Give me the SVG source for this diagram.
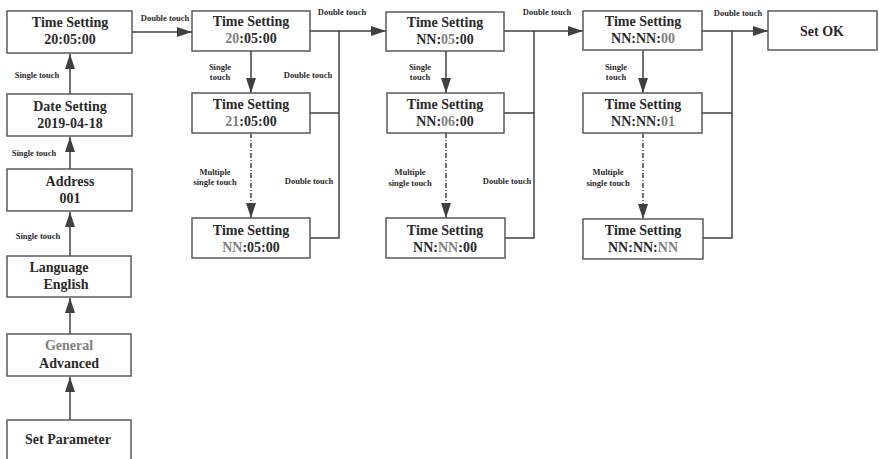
<svg xmlns="http://www.w3.org/2000/svg" width="879" height="459" viewBox="0 0 879 459">
<style>
.box{fill:#fff;stroke:#5a5a5a;stroke-width:1.5}
text{font-family:'Liberation Serif','Times New Roman','DejaVu Serif',serif;font-weight:bold;fill:#2a2a2a;text-anchor:middle}
.t{font-size:14px}
.g{fill:#808080}
.l{font-size:8.5px}
.c{fill:none;stroke:#404040;stroke-width:1.5}
.d{stroke-dasharray:5 2 1 2}
</style>
<defs>
<marker id="ah" markerUnits="userSpaceOnUse" markerWidth="16" markerHeight="11" refX="15" refY="5" orient="auto">
<path d="M0,0 L15,5 L0,10 z" fill="#404040"/>
</marker>
</defs>
<rect width="879" height="459" fill="#fff"/>
<g id="connectors">
<line class="c" x1="70" y1="420" x2="70" y2="377" marker-end="url(#ah)"/>
<line class="c" x1="70" y1="334" x2="70" y2="298" marker-end="url(#ah)"/>
<line class="c" x1="70" y1="256" x2="70" y2="212" marker-end="url(#ah)"/>
<line class="c" x1="70" y1="169" x2="70" y2="137" marker-end="url(#ah)"/>
<line class="c" x1="70" y1="94" x2="70" y2="54" marker-end="url(#ah)"/>
<line class="c" x1="132" y1="32" x2="192" y2="32" marker-end="url(#ah)"/>
<line class="c" x1="251" y1="51" x2="251" y2="93" marker-end="url(#ah)"/>
<line class="c d" x1="251" y1="133" x2="251" y2="218" marker-end="url(#ah)"/>
<line class="c" x1="310" y1="31" x2="386" y2="31" marker-end="url(#ah)"/>
<polyline class="c" points="339,31 339,238 310,238"/>
<line class="c" x1="310" y1="113" x2="339" y2="113"/>
<line class="c" x1="446" y1="51" x2="446" y2="93" marker-end="url(#ah)"/>
<line class="c d" x1="446" y1="133" x2="446" y2="218" marker-end="url(#ah)"/>
<line class="c" x1="504" y1="31" x2="583" y2="31" marker-end="url(#ah)"/>
<polyline class="c" points="534,31 534,238 505,238"/>
<line class="c" x1="504" y1="113" x2="534" y2="113"/>
<line class="c" x1="643" y1="50" x2="643" y2="93" marker-end="url(#ah)"/>
<line class="c d" x1="643" y1="133" x2="643" y2="219" marker-end="url(#ah)"/>
<line class="c" x1="702" y1="31" x2="768" y2="31" marker-end="url(#ah)"/>
<polyline class="c" points="732,31 732,238 703,238"/>
<line class="c" x1="702" y1="113" x2="732" y2="113"/>
</g>
<g id="labels">
<text class="l" x="37" y="78">Single touch</text>
<text class="l" x="34" y="156">Single touch</text>
<text class="l" x="38" y="239">Single touch</text>
<text class="l" x="165" y="21">Double touch</text>
<text class="l" x="342" y="15">Double touch</text>
<text class="l" x="547" y="15">Double touch</text>
<text class="l" x="738" y="16">Double touch</text>
<text class="l" x="220" y="70">Single</text>
<text class="l" x="220" y="80">touch</text>
<text class="l" x="420" y="70">Single</text>
<text class="l" x="420" y="80">touch</text>
<text class="l" x="616" y="70">Single</text>
<text class="l" x="616" y="80">touch</text>
<text class="l" x="308" y="78">Double touch</text>
<text class="l" x="309" y="184">Double touch</text>
<text class="l" x="507" y="184">Double touch</text>
<text class="l" x="215" y="175">Multiple</text>
<text class="l" x="215" y="185">single touch</text>
<text class="l" x="410" y="175">Multiple</text>
<text class="l" x="410" y="186">single touch</text>
<text class="l" x="608" y="175">Multiple</text>
<text class="l" x="608" y="186">single touch</text>
</g>
<g id="time-left"><rect class="box" x="7" y="11" width="125" height="42"/><text class="t" x="70" y="27">Time Setting</text><text class="t" x="70" y="44">20:05:00</text></g>
<g id="date"><rect class="box" x="7" y="94" width="125" height="42"/><text class="t" x="70" y="111">Date Setting</text><text class="t" x="70" y="128">2019-04-18</text></g>
<g id="address"><rect class="box" x="7" y="169" width="125" height="42"/><text class="t" x="70" y="186">Address</text><text class="t" x="70" y="203">001</text></g>
<g id="language"><rect class="box" x="7" y="256" width="124" height="41"/><text class="t" x="59" y="272">Language</text><text class="t" x="66" y="289">English</text></g>
<g id="general"><rect class="box" x="7" y="334" width="124" height="42"/><text class="t g" x="69" y="350">General</text><text class="t" x="69" y="368">Advanced</text></g>
<g id="set-parameter"><rect class="box" x="7" y="420" width="124" height="50"/><text class="t" x="68" y="444">Set Parameter</text></g>
<g id="ts-a"><rect class="box" x="192" y="11" width="118" height="40"/><text class="t" x="251" y="26">Time Setting</text><text class="t" x="251" y="43"><tspan class="g">20</tspan>:05:00</text></g>
<g id="ts-b"><rect class="box" x="192" y="93" width="118" height="40"/><text class="t" x="251" y="109">Time Setting</text><text class="t" x="251" y="126"><tspan class="g">21</tspan>:05:00</text></g>
<g id="ts-c"><rect class="box" x="192" y="218" width="118" height="40"/><text class="t" x="251" y="235">Time Setting</text><text class="t" x="251" y="252"><tspan class="g">NN</tspan>:05:00</text></g>
<g id="ts-d"><rect class="box" x="386" y="12" width="118" height="39"/><text class="t" x="445" y="27">Time Setting</text><text class="t" x="445" y="44">NN:<tspan class="g">05</tspan>:00</text></g>
<g id="ts-e"><rect class="box" x="387" y="93" width="117" height="40"/><text class="t" x="445" y="109">Time Setting</text><text class="t" x="445" y="126">NN:<tspan class="g">06</tspan>:00</text></g>
<g id="ts-f"><rect class="box" x="386" y="218" width="119" height="40"/><text class="t" x="445" y="235">Time Setting</text><text class="t" x="445" y="252">NN:<tspan class="g">NN</tspan>:00</text></g>
<g id="ts-g"><rect class="box" x="583" y="11" width="119" height="39"/><text class="t" x="643" y="26">Time Setting</text><text class="t" x="643" y="43">NN:NN:<tspan class="g">00</tspan></text></g>
<g id="ts-h"><rect class="box" x="583" y="93" width="119" height="40"/><text class="t" x="643" y="109">Time Setting</text><text class="t" x="643" y="126">NN:NN:<tspan class="g">01</tspan></text></g>
<g id="ts-i"><rect class="box" x="583" y="219" width="120" height="40"/><text class="t" x="643" y="235">Time Setting</text><text class="t" x="643" y="252">NN:NN:<tspan class="g">NN</tspan></text></g>
<g id="set-ok"><rect class="box" x="768" y="11" width="109" height="39"/><text class="t" x="822" y="36">Set OK</text></g>
</svg>
